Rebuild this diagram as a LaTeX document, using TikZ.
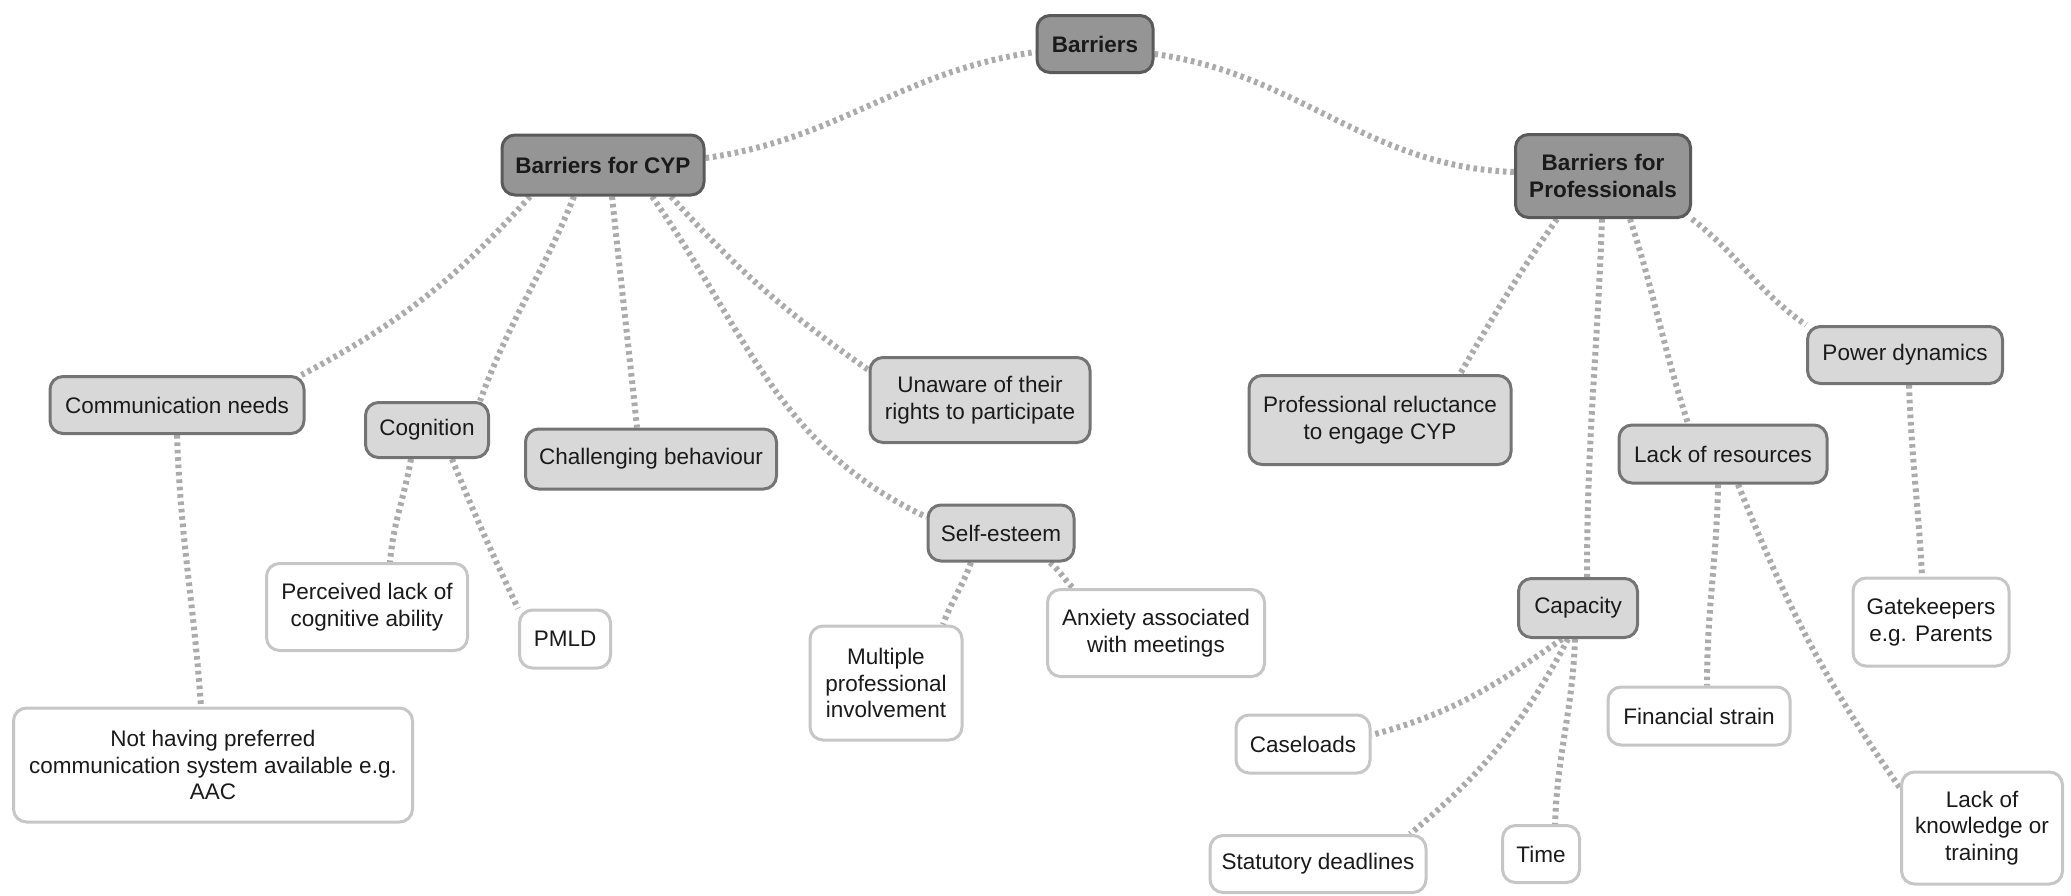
\documentclass[tikz,border=0pt]{standalone}
\usepackage{fontspec}
\setmainfont{Liberation Sans}
\usetikzlibrary{backgrounds}
\definecolor{dkfill}{HTML}{959595}
\definecolor{dkline}{HTML}{5A5A5A}
\definecolor{ltfill}{HTML}{D8D8D8}
\definecolor{ltline}{HTML}{747474}
\definecolor{lfline}{HTML}{C6C6C6}
\definecolor{lkcol}{HTML}{ABABAB}
\definecolor{txt}{HTML}{1A1A1A}
\begin{document}
\begin{tikzpicture}[x=1pt,y=1pt,
  box/.style={rounded corners=13pt, line width=3pt, align=center, inner sep=0pt,
    font=\fontsize{22.5}{26.5}\selectfont, text=txt},
  topic/.style={box, fill=dkfill, draw=dkline, font=\fontsize{22.5}{26.5}\selectfont\bfseries},
  sub/.style={box, fill=ltfill, draw=ltline},
  leaf/.style={box, fill=white, draw=lfline},
  link/.style={draw=lkcol, line width=6pt, dash pattern=on 3.6pt off 3.8pt},
]
\useasboundingbox (0,0) rectangle (2071,-895);

% main topics
\node[topic, minimum width=116, minimum height=57] (bar)  at (1095,-44)  {Barriers};
\node[topic, minimum width=202, minimum height=60] (cyp)  at (603,-165)  {Barriers for CYP};
\node[topic, minimum width=175, minimum height=83] (prof) at (1603,-176) {Barriers for\\Professionals};

% sub-topics
\node[sub, minimum width=254, minimum height=57] (comm) at (177,-405)  {Communication needs};
\node[sub, minimum width=123, minimum height=55] (cog)  at (427,-430)  {Cognition};
\node[sub, minimum width=251, minimum height=60] (chal) at (651,-459)  {Challenging behaviour};
\node[sub, minimum width=220, minimum height=85] (unaw) at (980,-400)  {Unaware of their\\rights to participate};
\node[sub, minimum width=146, minimum height=56] (self) at (1001,-533) {Self-esteem};
\node[sub, minimum width=262, minimum height=89] (rel)  at (1380,-420) {Professional reluctance\\to engage CYP};
\node[sub, minimum width=195, minimum height=57] (pow)  at (1905,-355) {Power dynamics};
\node[sub, minimum width=208, minimum height=58] (lor)  at (1723,-454) {Lack of resources};
\node[sub, minimum width=119, minimum height=59] (cap)  at (1578,-608) {Capacity};

% leaves
\node[leaf, minimum width=201, minimum height=87]  (perc)  at (367,-607)  {Perceived lack of\\cognitive ability};
\node[leaf, minimum width=91,  minimum height=58]  (pmld)  at (565,-639)  {PMLD};
\node[leaf, minimum width=399, minimum height=114] (nothv) at (213,-765)  {Not having preferred\\communication system available e.g.\\AAC};
\node[leaf, minimum width=152, minimum height=114] (mult)  at (886,-683)  {Multiple\\professional\\involvement};
\node[leaf, minimum width=217, minimum height=87]  (anx)   at (1156,-633) {Anxiety associated\\with meetings};
\node[leaf, minimum width=134, minimum height=58]  (case)  at (1303,-744) {Caseloads};
\node[leaf, minimum width=216, minimum height=57]  (stat)  at (1318,-864) {Statutory deadlines};
\node[leaf, minimum width=77,  minimum height=57]  (time)  at (1541,-854) {Time};
\node[leaf, minimum width=182, minimum height=58]  (fin)   at (1699,-716) {Financial strain};
\node[leaf, minimum width=156, minimum height=88]  (gate)  at (1931,-622) {Gatekeepers\\e.g. Parents};
\node[leaf, minimum width=161, minimum height=112] (lok)   at (1982,-828) {Lack of\\knowledge or\\training};

\begin{pgfonlayer}{background}
% top level
\draw[link] ([yshift=7]cyp.east) to[out=8,in=188] ([yshift=-8]bar.west);
\draw[link] ([yshift=-10]bar.east) to[out=-8,in=178] ([yshift=4]prof.west);
% children and young people
\draw[link] ([xshift=-73]cyp.south) to[out=228,in=28] ([xshift=-4]comm.north east);
\draw[link] ([xshift=-29]cyp.south) to[out=248,in=70] ([xshift=-10]cog.north east);
\draw[link] ([xshift=9]cyp.south) to[out=-84,in=96] ([xshift=-14]chal.north);
\draw[link] ([xshift=68]cyp.south) to[out=-48,in=145] ([yshift=30]unaw.west);
\draw[link] ([xshift=49]cyp.south) to[out=-55,in=155] ([yshift=16]self.west);
\draw[link] (comm.south) to[out=-88,in=94] ([xshift=-12]nothv.north);
\draw[link] ([xshift=-16]cog.south) to[out=-100,in=85] ([xshift=23]perc.north);
\draw[link] ([xshift=25]cog.south) to[out=-68,in=115] (pmld.north west);
\draw[link] ([xshift=-30]self.south) to[out=-110,in=70] ([xshift=57]mult.north);
\draw[link] ([xshift=49]self.south) to[out=-40,in=135] ([xshift=-83]anx.north);
% professionals
\draw[link] ([xshift=-46]prof.south) to[out=-125,in=60] ([xshift=80]rel.north);
\draw[link] ([xshift=-1]prof.south) to[out=-92,in=90] ([xshift=9]cap.north);
\draw[link] ([xshift=27]prof.south) to[out=-72,in=108] ([xshift=-35]lor.north);
\draw[link] (prof.south east) to[out=-38,in=145] (pow.north west);
\draw[link] ([xshift=4]pow.south) to[out=-88,in=93] ([xshift=-9]gate.north);
\draw[link] ([xshift=-5]lor.south) to[out=-91,in=90] ([xshift=8]fin.north);
\draw[link] ([xshift=15]lor.south) to[out=-68,in=125] ([yshift=40]lok.west);
\draw[link] ([xshift=-16]cap.south) to[out=-145,in=15] ([yshift=9]case.east);
\draw[link] ([xshift=-10]cap.south) to[out=-118,in=40] ([xshift=92]stat.north);
\draw[link] ([xshift=-3]cap.south) to[out=-92,in=88] ([xshift=14]time.north);
\end{pgfonlayer}
\end{tikzpicture}
\end{document}
